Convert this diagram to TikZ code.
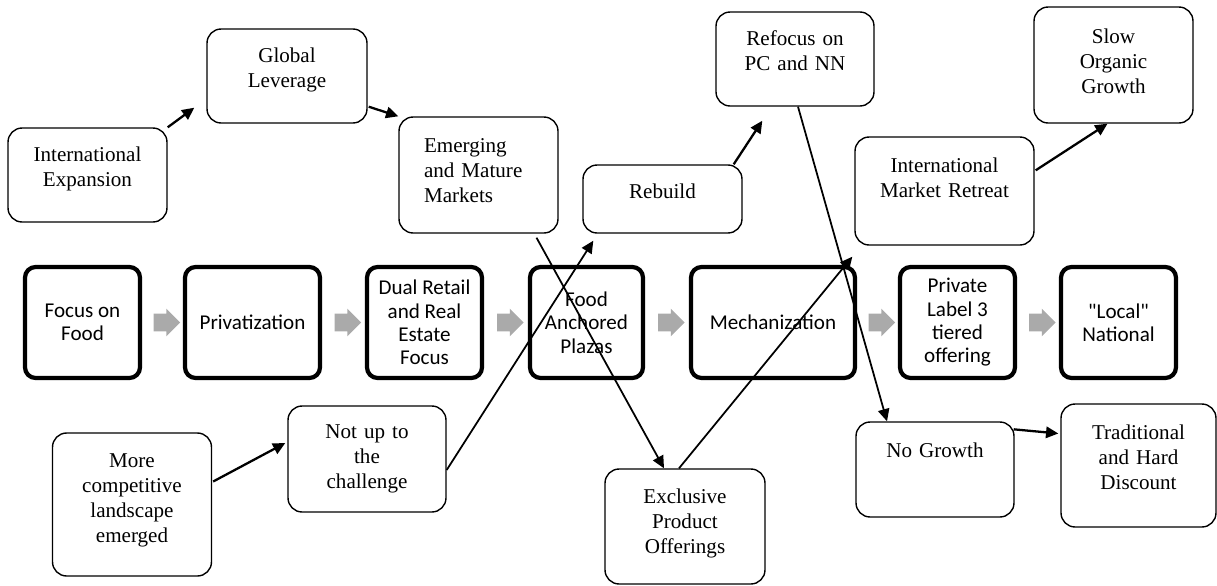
\documentclass[tikz,border=0pt]{standalone}
\usepackage{fontspec}
\setmainfont{Liberation Serif}
\newfontfamily\calfont{Carlito}
\usepackage{xcolor}
\definecolor{arrowgray}{RGB}{170,170,170}
\usepackage{tikz}
\usetikzlibrary{arrows.meta,positioning,calc,shapes.arrows}

\begin{document}
\begin{tikzpicture}[x=0.02cm,y=-0.02cm,
  tbox/.style 2 args={draw,rounded corners=8pt,line width=0.8pt,
              minimum width=#1,minimum height=#2,text width=#1-12pt,
              align=center,inner sep=0pt,font=\fontsize{12}{14.2}\selectfont},
  mbox/.style={draw,rounded corners=6pt,line width=2.4pt,
              minimum height=2.22cm,align=center,inner sep=2pt,
              font=\calfont\fontsize{12}{13.3}\selectfont},
  garrow/.style={single arrow,fill=arrowgray,draw=none,inner sep=0.17cm,
              minimum height=0.48cm,single arrow head extend=0.1cm},
  link/.style={-{Triangle[length=7pt,width=6.5pt]},line width=1.3pt},
  long/.style={-{Triangle[length=7pt,width=6.5pt]},line width=1pt},
]
  \useasboundingbox (0,0) rectangle (1217,585);

  %% main row
  \node[mbox,minimum width=2.3cm]  (ff)   at (82.5,322.5)   {Focus on\\Food};
  \node[mbox,minimum width=2.7cm]  (pv)   at (252.5,322.5)  {Privatization};
  \node[mbox,minimum width=2.3cm]  (dr)   at (424.5,322.5)  {Dual Retail\\and Real\\Estate\\Focus};
  \node[mbox,minimum width=2.26cm] (fa)   at (586.5,322.5)  {Food\\Anchored\\Plazas};
  \node[mbox,minimum width=3.28cm] (mech) at (773,322.5)    {Mechanization};
  \node[mbox,minimum width=2.3cm]  (pl)   at (957.5,322.5)  {Private\\Label 3\\tiered\\offering};
  \node[mbox,minimum width=2.3cm]  (ln)   at (1118.5,322.5) {"Local"\\National};

  \foreach \a/\b [count=\i] in {ff/pv,pv/dr,dr/fa,fa/mech,mech/pl,pl/ln}
    \node[garrow] (g\i) at ($(\a.east)!0.5!(\b.west)$) {};

  %% upper boxes
  \node[tbox={3.18cm}{1.88cm},text depth=23.9pt] (ie)  at (87.5,175)   {International\\Expansion};
  \node[tbox={3.2cm}{1.88cm},text depth=23.7pt]  (gl)  at (287,76)     {Global\\Leverage};
  \node[tbox={3.18cm}{2.32cm},text depth=33.7pt,text width=2.18cm,align=left]
                                                  (em)  at (478.5,175)  {Emerging\\and Mature\\Markets};
  \node[tbox={3.18cm}{1.36cm},text depth=8.5pt]  (rb)  at (662.5,199)  {Rebuild};
  \node[tbox={3.16cm}{1.88cm},text depth=23.5pt] (rf)  at (795,59)     {Refocus on\\PC and NN};
  \node[tbox={3.58cm}{2.16cm},text depth=28.9pt] (imr) at (944.5,191)  {International\\Market Retreat};
  \node[tbox={3.18cm}{2.32cm},text depth=32.9pt] (sog) at (1113.5,65)  {Slow\\Organic\\Growth};

  %% lower boxes
  \node[tbox={3.18cm}{2.86cm},text depth=49.9pt] (mc)  at (132,504.5)  {More\\competitive\\landscape\\emerged};
  \node[tbox={3.16cm}{2.12cm},text depth=30.9pt] (nu)  at (367,459)    {Not up to\\the\\challenge};
  \node[tbox={3.2cm}{2.3cm},text depth=34.1pt]   (ep)  at (685,526.5)  {Exclusive\\Product\\Offerings};
  \node[tbox={3.16cm}{1.9cm},text depth=21.9pt]  (ng)  at (935,469.5)  {No Growth};
  \node[tbox={3.1cm}{2.46cm},text depth=37.7pt]  (td)  at (1138.5,465.5) {Traditional\\and Hard\\Discount};

  %% connectors
  \draw[link] (ie.north east) -- ($(gl.south west)+(-12,-16)$);
  \draw[link] ($(gl.south east)+(1,-17)$) -- (em.north west);
  \draw[link] ($(rb.north east)+(-9,0)$) -- ($(rf.south west)+(47,14)$);
  \draw[link] ($(imr.north east)+(1,34)$) -- ($(sog.south)+(-6,0)$);
  \draw[link] ($(mc.east)+(1,-23)$) -- ($(nu.west)+(-2,-16)$);
  \draw[long] ($(nu.east)+(0,11)$) -- ($(rb.south west)+(11,7)$);
  \draw[long] ($(em.south)+(58,4)$) -- ($(ep.north)+(-21,0)$);
  \draw[long] ($(ep.north)+(-6,0)$) -- ($(imr.south west)+(-2,11)$);
  \draw[long] ($(rf.south)+(3,0)$) -- ($(ng.north)+(-48,0)$);
  \draw[link] ($(ng.north east)+(-1,8)$) -- ($(td.west)+(-2,-32)$);
\end{tikzpicture}
\end{document}
